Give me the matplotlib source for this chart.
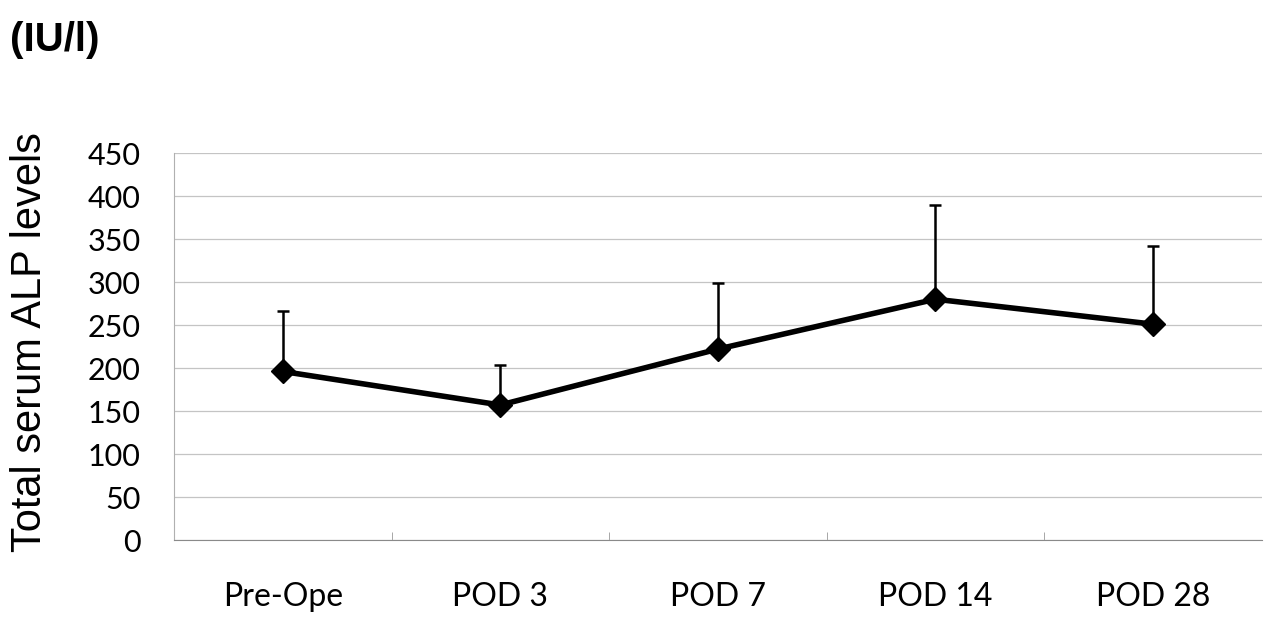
import numpy as np
import matplotlib
matplotlib.use('Agg')
import matplotlib.pyplot as plt

categories = ['Pre-Ope', 'POD 3', 'POD 7', 'POD 14', 'POD 28']
alp_mean = [196, 157, 222, 280, 251]
alp_sd = [70, 47, 77, 110, 91]

fig = plt.figure(figsize=(12.65, 6.19), dpi=100)
ax = fig.add_axes([0.1375, 0.1276, 0.8600, 0.6252])

x = np.arange(len(categories))
ax.errorbar(x, alp_mean, yerr=[np.zeros(len(alp_sd)), alp_sd], fmt='none',
            ecolor='k', elinewidth=1.8, capsize=4, capthick=1.8, zorder=3)
ax.plot(x, alp_mean, '-', color='k', lw=4, marker='D', markersize=12, zorder=4)

ax.set_xlim(-0.5, len(categories) - 0.5)
ax.set_ylim(0, 450)
ax.set_yticks(np.arange(0, 451, 50))
ax.yaxis.grid(True, color='#c4c4c4', lw=0.9)
ax.set_axisbelow(True)

ax.set_xticks(x)
ax.set_xticklabels(categories, fontfamily='Lato', fontsize=23)
ax.set_xticks(np.arange(0.5, len(categories) - 0.5, 1), minor=True)
ax.tick_params(axis='x', which='major', length=0, pad=30)
ax.tick_params(axis='x', which='minor', direction='in', length=6, color='#999999')
ax.tick_params(axis='y', length=0, pad=24)
for lab in ax.get_yticklabels():
    lab.set_fontfamily('Lato')
    lab.set_fontsize(22)

for s in ['top', 'right']:
    ax.spines[s].set_visible(False)
ax.spines['left'].set_color('#b0b0b0')
ax.spines['bottom'].set_color('#8a8a8a')

fig.text(0.024, 0.447, 'Total serum ALP levels', rotation=90, ha='center', va='center',
         fontfamily='Liberation Sans', fontsize=30)
fig.text(0.008, 0.935, '(IU/l)', ha='left', va='center',
         fontfamily='Liberation Sans', fontweight='bold', fontsize=29)

fig.savefig('out.png', dpi=100)
